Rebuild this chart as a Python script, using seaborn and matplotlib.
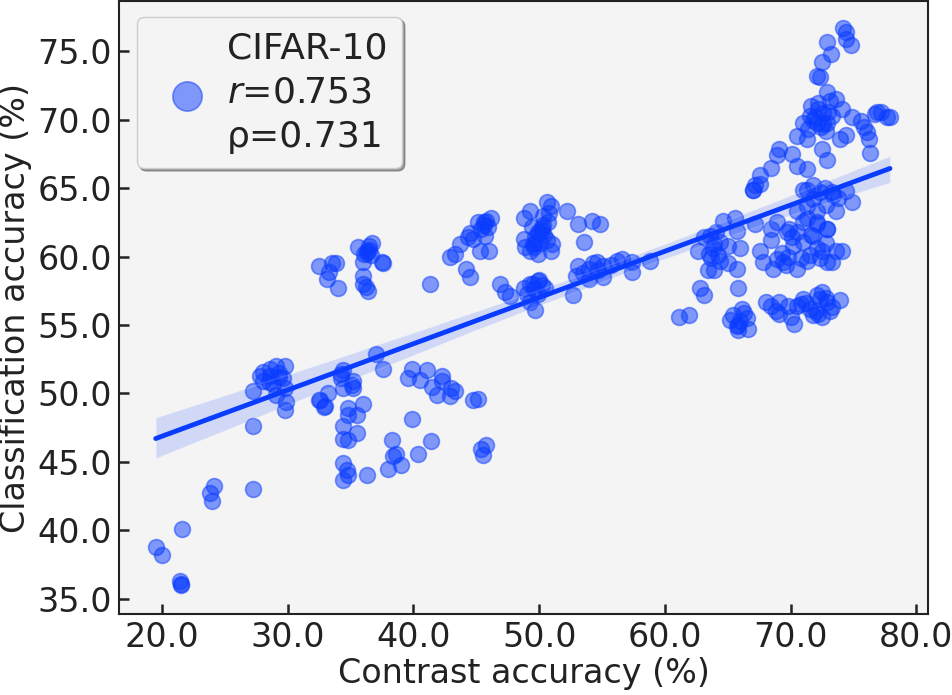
import numpy as np
import pandas as pd
import seaborn as sns
import matplotlib
matplotlib.use("Agg")
import matplotlib.pyplot as plt
from matplotlib.ticker import FormatStrFormatter

# contrast accuracy (%) and classification accuracy (%), cluster by cluster
low_x = [19.5, 20.0, 21.6, 21.4, 21.5, 21.5, 24.1, 23.8, 24.0, 27.2, 27.2]
low_y = [38.8, 38.2, 40.1, 36.3, 36.0, 36.1, 43.2, 42.7, 42.1, 43.0, 47.6]

c30_x = [27.2, 28.0, 28.6, 29.1, 29.8, 29.6, 29.8, 29.9, 29.8, 28.0, 28.6, 27.8, 28.8, 29.3, 29.1,
         28.5, 29.3]
c30_y = [50.2, 51.6, 51.8, 52.0, 52.0, 51.1, 50.4, 49.4, 48.8, 50.9, 51.3, 51.3, 50.7, 51.5, 49.9,
         50.8, 51.2]

c34_x = [32.5, 33.5, 33.8, 33.3, 33.1, 34.0, 35.6, 36.7, 36.3, 36.6, 36.0, 37.5, 36.0, 36.0,
         36.4, 36.2, 37.6, 36.5, 36.1, 36.3, 36.5]
c34_y = [59.3, 59.5, 59.5, 58.9, 58.4, 57.7, 60.7, 61.0, 60.4, 60.1, 59.6, 59.6, 58.6, 58.0,
         57.5, 57.8, 59.5, 60.5, 60.2, 60.3, 60.8]

c35_x = [37.0, 37.6, 34.4, 34.2, 35.2, 34.4, 35.2, 33.2, 32.6, 33.0, 34.8, 36.0, 34.8, 35.5,
         34.4, 35.5, 34.4, 34.8, 34.4, 34.7, 34.4, 34.8, 36.3, 34.2, 35.1, 32.5, 32.9]
c35_y = [52.9, 51.8, 51.7, 51.1, 50.9, 50.4, 50.4, 50.0, 49.5, 49.1, 48.9, 49.2, 48.4, 48.4,
         47.6, 47.1, 46.7, 46.6, 44.9, 44.4, 43.7, 44.0, 44.0, 51.4, 50.6, 49.5, 49.0]

c40_x = [39.9, 38.3, 38.6, 38.4, 39.0, 38.0, 40.4, 41.4, 39.9, 41.1, 39.6, 40.5, 42.3, 42.3,
         41.5, 41.9, 43.0, 43.3, 42.9, 44.7, 45.1, 45.4, 45.8, 45.5]
c40_y = [48.1, 46.6, 45.6, 45.4, 44.8, 44.5, 45.6, 46.5, 51.8, 51.7, 51.1, 51.0, 51.3, 50.9,
         50.5, 49.9, 50.4, 50.2, 49.8, 49.5, 49.6, 45.9, 46.2, 45.5]

c45_x = [42.9, 43.3, 43.7, 44.5, 45.1, 45.8, 46.2, 45.6, 44.7, 45.3, 46.0, 44.2, 44.5, 41.3,
         45.4, 45.7, 44.3, 45.6, 45.9]
c45_y = [60.0, 60.2, 60.9, 61.7, 62.5, 62.6, 62.8, 62.3, 61.3, 60.4, 60.4, 59.1, 58.5, 58.0,
         62.0, 61.5, 61.4, 62.5, 62.2]

c50_x = [48.8, 49.3, 50.6, 50.9, 50.3, 50.7, 49.9, 48.8, 49.5, 49.3, 49.9, 51.0, 50.9, 52.2,
         53.1, 54.2, 54.8, 53.6, 49.7, 50.1, 49.6, 50.2, 50.8, 50.4, 49.4, 50.2, 48.9,
         50.0, 50.3, 49.7, 50.6]
c50_y = [62.8, 63.3, 64.0, 63.7, 63.0, 62.5, 61.8, 61.3, 60.9, 60.4, 60.2, 60.9, 60.4, 63.3,
         62.4, 62.6, 62.4, 61.1, 61.4, 61.0, 60.7, 62.1, 63.2, 61.6, 62.2, 61.9, 60.7,
         61.7, 62.3, 61.0, 61.2]

c50l_x = [46.9, 47.3, 47.7, 48.8, 49.3, 49.9, 49.0, 49.9, 50.5, 49.3, 49.7, 52.7, 49.5, 50.2,
          49.6, 50.0]
c50l_y = [58.0, 57.4, 57.1, 57.7, 58.0, 58.2, 57.3, 57.3, 57.7, 56.7, 56.1, 57.2, 58.0, 57.9,
          57.6, 58.3]

c55_x = [53.1, 53.5, 54.0, 54.6, 55.1, 55.1, 56.2, 56.6, 57.4, 57.4, 58.8, 52.9, 54.0, 54.7,
         54.3, 55.7]
c55_y = [59.3, 58.8, 59.1, 59.6, 59.3, 58.5, 59.7, 59.8, 59.6, 58.9, 59.7, 58.6, 58.4, 59.0,
         59.5, 59.4]

c64_x = [64.6, 65.6, 63.6, 63.9, 64.4, 65.0, 62.6, 63.5, 64.2, 66.0, 63.4, 63.9, 65.0, 65.7,
         62.8, 63.1, 65.8, 67.2, 65.7, 63.1, 64.1, 63.8, 64.4, 63.7]
c64_y = [62.6, 62.8, 61.5, 60.9, 61.1, 60.8, 60.4, 60.2, 60.1, 60.6, 59.0, 59.0, 59.5, 59.1,
         57.7, 57.2, 57.7, 62.4, 61.9, 61.4, 61.8, 60.6, 59.7, 59.9]

c66_x = [61.1, 61.9, 65.4, 66.1, 66.0, 66.5, 65.7, 66.6, 65.8, 66.3, 65.2, 65.8]
c66_y = [55.6, 55.7, 55.7, 56.2, 55.3, 55.5, 54.9, 54.7, 55.0, 55.9, 55.4, 54.6]

c71_x = [67.6, 67.8, 68.4, 68.9, 69.4, 68.6, 70.5, 71.3, 71.5, 72.1, 72.5, 72.9, 73.6, 74.1,
         73.3, 70.2, 71.0, 68.4, 68.9, 69.7, 70.5, 71.3, 72.9, 72.1, 69.3, 69.8, 71.8, 72.8,
         69.6, 70.8, 72.3, 70.1, 71.6]
c71_y = [60.4, 59.6, 61.2, 59.8, 59.6, 59.1, 59.1, 59.7, 60.1, 60.6, 60.4, 59.6, 60.4, 60.4,
         59.6, 60.8, 61.1, 62.0, 62.5, 61.8, 61.8, 62.8, 62.0, 62.4, 60.3, 60.0, 61.5, 61.0,
         59.4, 59.9, 59.9, 61.4, 61.6]

c71l_x = [68.0, 68.4, 69.1, 69.1, 69.8, 70.3, 71.0, 71.5, 72.1, 72.5, 72.9, 73.1, 72.5, 73.9,
          70.5, 71.8, 70.8, 72.3, 73.3, 68.8, 70.0, 71.2, 72.0, 72.8, 72.2]
c71l_y = [56.7, 56.4, 56.7, 55.8, 56.4, 55.1, 56.9, 56.2, 57.2, 57.4, 56.7, 56.0, 55.6, 56.8,
          56.4, 55.7, 56.5, 56.9, 56.3, 56.0, 55.6, 56.6, 56.0, 57.0, 55.8]

c73_x = [71.3, 72.3, 73.3, 74.4, 74.9, 73.6, 72.1, 72.9, 70.5, 71.0, 69.9, 71.3, 72.1, 67.0,
         67.6, 71.8, 72.8, 73.8, 73.4, 72.7]
c73_y = [64.9, 64.7, 64.7, 64.8, 64.0, 63.3, 62.5, 62.0, 63.3, 62.5, 62.0, 63.7, 63.3, 64.9,
         65.3, 64.2, 63.8, 64.3, 64.5, 65.0]

top_x = [72.9, 74.4, 74.8, 74.4, 74.2, 73.2, 72.5, 72.1, 72.3, 72.9, 73.1, 73.6, 74.1, 71.5,
         72.1, 72.9, 73.3, 71.0, 70.5, 71.3, 73.9, 74.4, 72.5, 72.9, 69.1, 68.9, 70.1, 70.5,
         71.3, 68.4, 67.6, 67.2, 67.0, 71.0, 71.8, 71.8, 72.6, 71.6, 72.4, 72.8, 72.2,
         71.9, 72.6, 73.0, 71.4, 72.2]
top_y = [75.7, 75.9, 75.5, 76.4, 76.7, 74.8, 74.2, 73.2, 73.1, 72.0, 71.4, 71.5, 70.8, 70.3,
         69.8, 69.8, 70.3, 69.8, 68.8, 68.6, 68.6, 68.9, 67.9, 67.1, 67.9, 67.4, 67.5, 66.6,
         66.4, 66.5, 66.0, 65.2, 64.9, 64.9, 65.2, 70.0, 70.5, 71.0, 69.5, 69.2, 70.8,
         70.2, 69.7, 70.6, 69.3, 71.2]

right_x = [74.9, 75.6, 76.9, 77.7, 76.1, 76.2, 76.3, 77.2, 75.8, 77.9, 76.7]
right_y = [70.2, 69.9, 70.6, 70.2, 69.1, 68.6, 67.6, 70.6, 69.5, 70.2, 70.4]

xs = (low_x + c30_x + c34_x + c35_x + c40_x + c45_x + c50_x + c50l_x + c55_x
      + c64_x + c66_x + c71_x + c71l_x + c73_x + top_x + right_x)
ys = (low_y + c30_y + c34_y + c35_y + c40_y + c45_y + c50_y + c50l_y + c55_y
      + c64_y + c66_y + c71_y + c71l_y + c73_y + top_y + right_y)
df = pd.DataFrame({"contrast": xs, "classification": ys})

legend_label = "CIFAR-10\n$r$=0.753\nρ=0.731"
blue = "#0a3cff"

sns.set_style("ticks")
plt.rcParams["font.family"] = ["DejaVu Sans"]

fig, ax = plt.subplots(figsize=(9.52, 6.95), dpi=100)
fig.subplots_adjust(left=0.125, right=0.975, top=0.998, bottom=0.1165)
ax.set_facecolor("#f4f4f4")

sns.regplot(data=df, x="contrast", y="classification", ax=ax, color=blue,
            scatter_kws={"s": 130, "alpha": 0.5, "edgecolor": blue, "linewidths": 1.2},
            line_kws={"lw": 3.5, "color": blue}, label=legend_label)

ax.set_xlim(16.58, 80.94)
ax.set_ylim(33.87, 78.66)
ax.set_xticks(np.arange(20, 81, 10))
ax.set_yticks(np.arange(35, 76, 5))
ax.xaxis.set_major_formatter(FormatStrFormatter("%.1f"))
ax.yaxis.set_major_formatter(FormatStrFormatter("%.1f"))
ax.tick_params(direction="in", length=7, width=1.8, labelsize=24, colors="#222222", pad=5)
ax.set_xlabel("Contrast accuracy (%)", fontsize=24, color="#222222", labelpad=2)
ax.set_ylabel("Classification accuracy (%)", fontsize=24, color="#222222", labelpad=4)
for sp in ax.spines.values():
    sp.set_linewidth(1.5)
    sp.set_color("#222222")

handles, labels = ax.get_legend_handles_labels()
leg = ax.legend(handles[:1], labels[:1], loc="upper left", fontsize=26, shadow=True,
                fancybox=True, markerscale=1.85, framealpha=1, facecolor="#f4f4f4",
                borderpad=0.4, handletextpad=0.1, handlelength=2.0, borderaxespad=0,
                bbox_to_anchor=(0.022, 0.975))
for t in leg.get_texts():
    t.set_color("#222222")
    t.set_linespacing(1.38)

fig.savefig("out.png", dpi=100)
